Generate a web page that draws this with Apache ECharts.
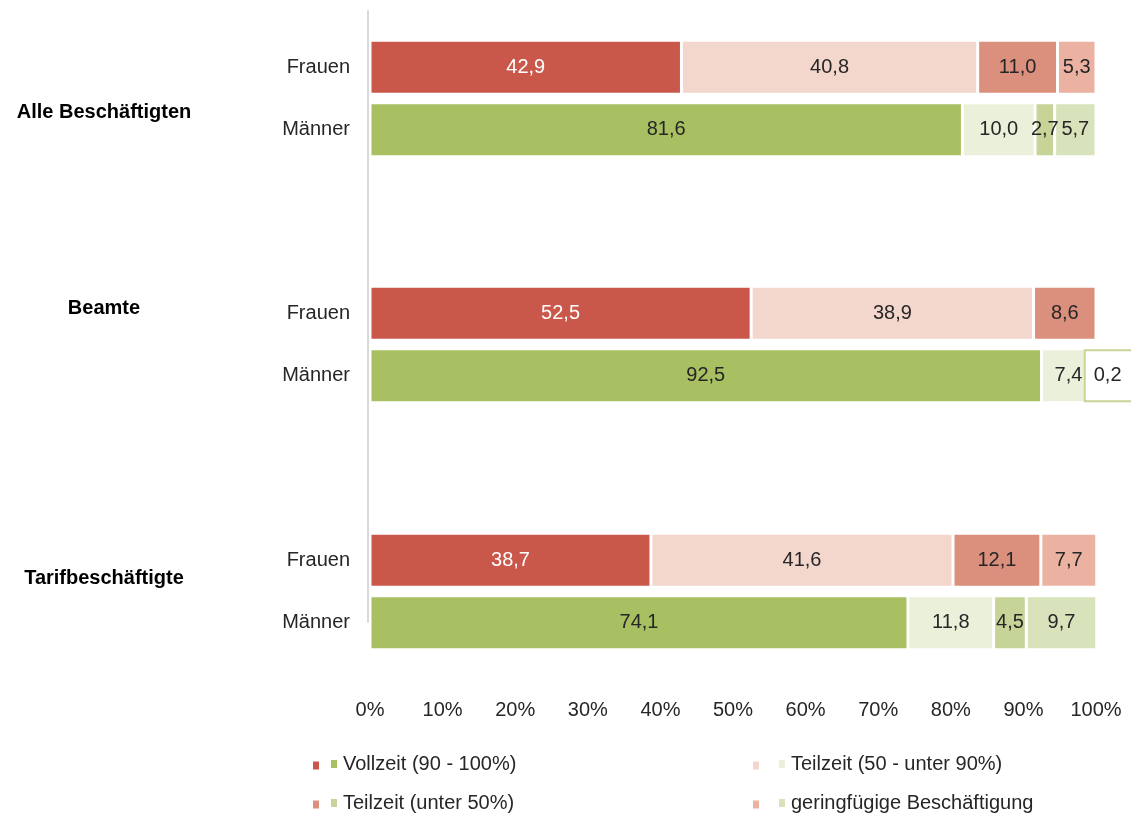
<!DOCTYPE html>
<html>
<head>
<meta charset="utf-8">
<script src="https://cdn.jsdelivr.net/npm/echarts@6/dist/echarts.min.js"></script>
<style>html,body{margin:0;padding:0;background:#fff;}#c{width:1131px;height:814px;}</style>
</head>
<body>
<div id="c"></div>
<script>
const groups = ['Alle Beschäftigten', 'Beamte', 'Tarifbeschäftigte'];
const rows = ['Frauen', 'Männer'];
const types = ['Vollzeit (90 - 100%)', 'Teilzeit (50 - unter 90%)', 'Teilzeit (unter 50%)', 'geringfügige Beschäftigung'];
const ticks = [0, 10, 20, 30, 40, 50, 60, 70, 80, 90, 100];

// Frauen values per type, per group
const frauenVollzeit = [42.9, 52.5, 38.7];
const frauenTeil50 = [40.8, 38.9, 41.6];
const frauenTeilU50 = [11.0, 8.6, 12.1];
const frauenGering = [5.3, null, 7.7];
// Männer values per type, per group
const maennerVollzeit = [81.6, 92.5, 74.1];
const maennerTeil50 = [10.0, 7.4, 11.8];
const maennerTeilU50 = [2.7, 0.2, 4.5];
const maennerGering = [5.7, null, 9.7];

const frauenData = [frauenVollzeit, frauenTeil50, frauenTeilU50, frauenGering];
const maennerData = [maennerVollzeit, maennerTeil50, maennerTeilU50, maennerGering];
const frauenColors = ['#C9584A', '#F3D6CC', '#DB8F7D', '#EBB1A1'];
const maennerColors = ['#A8BF62', '#EBF0DB', '#C7D498', '#D9E3BB'];

const FONT = '"Liberation Sans", Arial, sans-serif';
const TXT = '#262626';
const FS = 20;
const fmt = v => v.toFixed(1).replace('.', ',');

const gridTops = [36, 282, 529];
const grids = gridTops.map(t => ({ left: 370, right: 35, top: t, height: 125 }));
grids.push({ left: 368, right: 35, top: 11, height: 611 });

const xAxes = gridTops.map((t, i) => ({
  gridIndex: i, type: 'value', min: ticks[0], max: ticks[ticks.length - 1], interval: ticks[1] - ticks[0],
  show: i === 2,
  axisLine: { show: false }, axisTick: { show: false }, splitLine: { show: false },
  axisLabel: { show: i === 2, formatter: '{value}%', margin: 46, fontSize: FS, color: TXT, fontFamily: FONT }
}));
xAxes.push({ gridIndex: 3, type: 'value', show: false });

const yAxes = gridTops.map((t, i) => ({
  gridIndex: i, type: 'category', data: rows, inverse: true,
  axisLine: { show: false }, axisTick: { show: false },
  axisLabel: { margin: 20, fontSize: FS, color: TXT, fontFamily: FONT }
}));
yAxes.push({
  gridIndex: 3, type: 'value', min: 0, max: 1,
  axisLine: { show: true, lineStyle: { color: '#D9D9D9', width: 2 } },
  axisTick: { show: false }, axisLabel: { show: false }, splitLine: { show: false }
});

const series = [];
for (let g = 0; g < groups.length; g++) {
  for (let t = 0; t < types.length; t++) {
    const fv = frauenData[t][g];
    const mv = maennerData[t][g];
    series.push({
      name: types[t] + ' – Frauen', type: 'bar', stack: 's' + g,
      xAxisIndex: g, yAxisIndex: g, barWidth: 54,
      itemStyle: { color: frauenColors[t], borderColor: '#fff', borderWidth: 1.5 },
      label: { show: true, position: 'inside', fontSize: FS, fontFamily: FONT,
        color: t === 0 ? '#fff' : TXT, formatter: p => fmt(p.value) },
      data: [fv === null ? '-' : fv, '-']
    });
    let mItem = mv === null ? '-' : mv;
    if (mv !== null && mv < 1) {
      mItem = { value: mv, label: { position: 'right', distance: 0, offset: [-11, 0],
        backgroundColor: '#fff', borderColor: maennerColors[t], borderWidth: 2, padding: [15, 14, 14, 8] } };
    }
    series.push({
      name: types[t], type: 'bar', stack: 's' + g,
      xAxisIndex: g, yAxisIndex: g, barWidth: 54,
      itemStyle: { color: maennerColors[t], borderColor: '#fff', borderWidth: 1.5 },
      label: { show: true, position: 'inside', fontSize: FS, fontFamily: FONT, color: TXT,
        formatter: p => fmt(p.value) },
      data: ['-', mItem]
    });
  }
}

// Legend layout: 2 columns x 2 rows
const legendPos = [
  { fx: 311, mx: 329, y: 764 },
  { fx: 751, mx: 777, y: 764 },
  { fx: 311, mx: 329, y: 803 },
  { fx: 751, mx: 777, y: 803 }
];
const legends = [];
types.forEach((name, t) => {
  const p = legendPos[t];
  legends.push({
    data: [{ name: name + ' – Frauen', icon: 'rect' }], left: p.fx, top: p.y - 4.5, padding: 0, itemWidth: 8, itemHeight: 10,
    formatter: () => '', selectedMode: false, textStyle: { fontSize: 1 }
  });
  legends.push({
    data: [{ name: name, icon: 'rect' }], left: p.mx, top: p.y - 11, padding: 0, itemWidth: 8, itemHeight: 10, selectedMode: false,
    textStyle: { fontSize: FS, color: TXT, fontFamily: FONT, lineHeight: 22 }
  });
});

const groupY = [112, 308, 578];
const graphic = groups.map((g, i) => ({
  type: 'text', x: 104, y: groupY[i],
  style: { text: g, font: 'bold 20px ' + FONT, fill: '#000', align: 'center', verticalAlign: 'middle' }
}));

const chart = echarts.init(document.getElementById('c'));
chart.setOption({
  animation: false,
  grid: grids, xAxis: xAxes, yAxis: yAxes,
  legend: legends, series: series, graphic: graphic
});
</script>
</body>
</html>
